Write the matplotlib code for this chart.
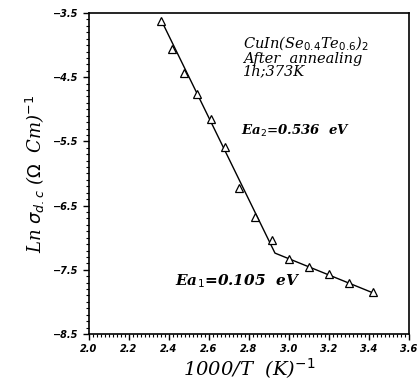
import matplotlib.pyplot as plt
from matplotlib.ticker import MultipleLocator

# measured points
inv_T = [2.36, 2.415, 2.475, 2.54, 2.61, 2.68, 2.75, 2.83, 2.915,
         3.00, 3.10, 3.20, 3.30, 3.42]
ln_sigma = [-3.62, -4.06, -4.43, -4.76, -5.15, -5.59, -6.23, -6.68, -7.04,
            -7.33, -7.46, -7.57, -7.71, -7.85]

# two linear fits meeting at the break
fit_x = [2.36, 2.93, 3.42]
fit_y = [-3.60, -7.24, -7.86]

x_ticks = [2.0, 2.2, 2.4, 2.6, 2.8, 3.0, 3.2, 3.4, 3.6]
y_ticks = [-3.5, -4.5, -5.5, -6.5, -7.5, -8.5]

fig = plt.figure(figsize=(4.17, 3.83), dpi=100)
ax = fig.add_axes([0.213, 0.128, 0.768, 0.838])

ax.plot(fit_x, fit_y, color='black', lw=1.0)
ax.plot(inv_T, ln_sigma, linestyle='none', marker='^', markersize=5.5,
        markerfacecolor='white', markeredgecolor='black', markeredgewidth=0.9)

ax.set_xlim(2.0, 3.6)
ax.set_ylim(-8.5, -3.5)
ax.set_xticks(x_ticks)
ax.set_yticks(y_ticks)
ax.xaxis.set_minor_locator(MultipleLocator(0.02))
ax.yaxis.set_minor_locator(MultipleLocator(0.1))
ax.tick_params(which='major', direction='out', length=4, width=1.0)
ax.tick_params(which='minor', direction='out', length=2.5, width=0.8)
for lab in ax.get_xticklabels() + ax.get_yticklabels():
    lab.set_fontsize(7)
    lab.set_fontweight('bold')
    lab.set_fontstyle('italic')
for s in ax.spines.values():
    s.set_linewidth(1.2)

ax.set_xlabel(r'1000/T  (K)$^{-1}$', fontsize=14, family='DejaVu Serif',
              style='italic', labelpad=1)
ax.set_ylabel(r'Ln $\sigma_{d.c}$ ($\Omega$  Cm)$^{-1}$', fontsize=13,
              family='DejaVu Serif', style='italic', labelpad=4)

ax.text(2.77, -3.83, 'CuIn(Se$_{0.4}$Te$_{0.6}$)$_2$\nAfter  annealing\n1h;373K',
        fontsize=10.5, family='DejaVu Serif', style='italic', va='top',
        linespacing=0.9)
ax.text(2.76, -5.33, r'Ea$_2$=0.536  eV', fontsize=9.5, fontweight='bold',
        family='DejaVu Serif', style='italic', va='center')
ax.text(2.43, -7.67, r'Ea$_1$=0.105  eV', fontsize=11, fontweight='bold',
        family='DejaVu Serif', style='italic', va='center')

fig.savefig('out.png', dpi=100)
